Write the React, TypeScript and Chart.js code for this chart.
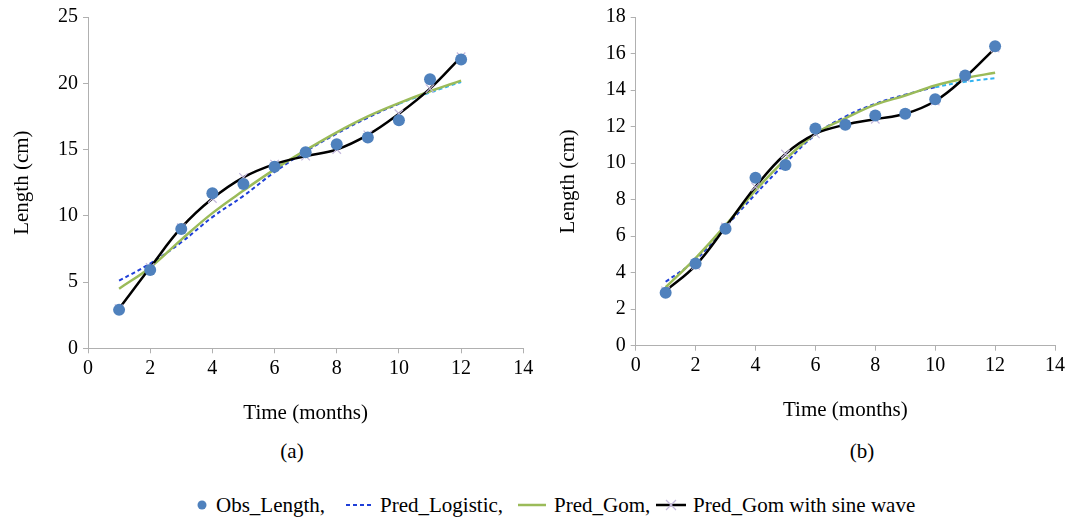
import React, { useEffect, useRef } from "react";
import { Chart, registerables } from "chart.js";
Chart.register(...registerables);

const FONT = "'Liberation Serif', 'Times New Roman', serif";
Chart.defaults.font.family = FONT;

const months = [1, 2, 3, 4, 5, 6, 7, 8, 9, 10, 11, 12];
const xTicksMax = 14;

// Panel (a)
const obsA = [2.9, 5.9, 9.0, 11.7, 12.4, 13.7, 14.8, 15.4, 15.9, 17.2, 20.3, 21.8];
const logisticA = [5.1, 6.4, 8.0, 9.9, 11.5, 13.3, 14.85, 16.2, 17.4, 18.45, 19.3, 20.1];
const gomA = [4.5, 6.1, 8.2, 10.2, 11.9, 13.5, 14.95, 16.3, 17.5, 18.5, 19.4, 20.2];
const sineA = [3.0, 6.1, 9.1, 11.3, 12.9, 13.9, 14.5, 15.0, 16.1, 17.7, 19.6, 22.0];
const yMaxA = 25;
const yStepA = 5;

// Panel (b)
const obsB = [2.9, 4.5, 6.4, 9.2, 9.9, 11.9, 12.1, 12.6, 12.7, 13.5, 14.8, 16.4];
const logisticB = [3.5, 4.7, 6.5, 8.3, 10.0, 11.55, 12.55, 13.25, 13.75, 14.15, 14.45, 14.65];
const gomB = [3.2, 4.8, 6.6, 8.5, 10.2, 11.6, 12.45, 13.2, 13.7, 14.25, 14.65, 14.95];
const sineB = [3.0, 4.4, 6.5, 8.7, 10.5, 11.6, 12.1, 12.4, 12.7, 13.4, 14.7, 16.3];
const yMaxB = 18;
const yStepB = 2;

const xTitle = "Time (months)";
const yTitle = "Length (cm)";
const seriesNames = ["Obs_Length,", "Pred_Logistic,", "Pred_Gom,", "Pred_Gom with sine wave"];

const toXY = (vals: number[]) => months.map((m, i) => ({ x: m, y: vals[i] }));

type PanelProps = {
  obs: number[];
  logistic: number[];
  gom: number[];
  sine: number[];
  yMax: number;
  yStep: number;
  width: number;
  height: number;
  yAxisWidth: number;
  xAxisHeight: number;
  padRight: number;
  padTop: number;
  yTitlePad: number;
  xTitlePad: number;
};

function Panel(p: PanelProps) {
  const ref = useRef<HTMLCanvasElement>(null);
  useEffect(() => {
    const axisColor = "#b0b0b0";
    const chart = new Chart(ref.current as HTMLCanvasElement, {
      type: "line",
      data: {
        datasets: [
          {
            label: seriesNames[0],
            data: toXY(p.obs),
            showLine: false,
            pointRadius: 6,
            pointBackgroundColor: "#4f81bd",
            pointBorderColor: "#4f81bd",
            pointBorderWidth: 0,
          },
          {
            label: seriesNames[3],
            data: toXY(p.sine),
            borderColor: "#000000",
            borderWidth: 2.5,
            tension: 0.4,
            pointStyle: "crossRot",
            pointRadius: 6,
            pointBorderColor: "#c4b8dc",
            pointBorderWidth: 1.2,
          },
          {
            label: seriesNames[2],
            data: toXY(p.gom),
            borderColor: "#9bbb59",
            borderWidth: 2.5,
            tension: 0.4,
            pointRadius: 0,
          },
          {
            label: seriesNames[1],
            data: toXY(p.logistic),
            borderColor: "#1f3fd8",
            borderWidth: 2,
            borderDash: [4, 3],
            tension: 0.4,
            pointRadius: 0,
            segment: {
              borderColor: (ctx: any) => (ctx.p0.parsed.x >= 10 ? "#33b3f0" : undefined),
            },
          },
        ],
      },
      options: {
        animation: false,
        responsive: false,
        devicePixelRatio: 1,
        layout: { padding: { left: 0, right: p.padRight, top: p.padTop, bottom: 0 } },
        plugins: { legend: { display: false }, tooltip: { enabled: false } },
        scales: {
          x: {
            type: "linear",
            min: 0,
            max: xTicksMax,
            ticks: { stepSize: 2, color: "#000", padding: 3, font: { family: FONT, size: 20 } },
            grid: { display: true, drawOnChartArea: false, drawTicks: true, tickLength: 5, color: axisColor },
            border: { display: true, color: axisColor, width: 1 },
            title: {
              display: true,
              text: xTitle,
              color: "#000",
              font: { family: FONT, size: 21 },
              padding: { top: 0, bottom: p.xTitlePad },
            },
            afterFit: (s: any) => {
              s.height = p.xAxisHeight;
            },
          },
          y: {
            type: "linear",
            min: 0,
            max: p.yMax,
            ticks: { stepSize: p.yStep, color: "#000", padding: 5, font: { family: FONT, size: 20 } },
            grid: { display: true, drawOnChartArea: false, drawTicks: true, tickLength: 5, color: axisColor },
            border: { display: true, color: axisColor, width: 1 },
            title: {
              display: true,
              text: yTitle,
              color: "#000",
              font: { family: FONT, size: 21 },
              padding: { top: p.yTitlePad, bottom: 0 },
            },
            afterFit: (s: any) => {
              s.width = p.yAxisWidth;
            },
          },
        },
      },
    } as any);
    return () => chart.destroy();
  }, []);
  return (
    <canvas
      ref={ref}
      width={p.width}
      height={p.height}
      style={{ width: p.width, height: p.height, display: "block" }}
    />
  );
}

const textStyle: React.CSSProperties = {
  position: "absolute",
  fontFamily: FONT,
  fontSize: 21,
  lineHeight: "21px",
  color: "#000",
  whiteSpace: "nowrap",
};

export default function App() {
  return (
    <div
      style={{
        position: "absolute",
        left: 0,
        top: 0,
        width: 1069,
        height: 517,
        background: "#fff",
        overflow: "hidden",
      }}
    >
      <div style={{ position: "absolute", left: 0, top: 0 }}>
        <Panel
          obs={obsA}
          logistic={logisticA}
          gom={gomA}
          sine={sineA}
          yMax={yMaxA}
          yStep={yStepA}
          width={540}
          height={430}
          yAxisWidth={88}
          xAxisHeight={81.7}
          padRight={16.7}
          padTop={14.7}
          yTitlePad={9.4}
          xTitlePad={4.4}
        />
      </div>
      <div style={{ position: "absolute", left: 540, top: 0 }}>
        <Panel
          obs={obsB}
          logistic={logisticB}
          gom={gomB}
          sine={sineB}
          yMax={yMaxB}
          yStep={yStepB}
          width={529}
          height={430}
          yAxisWidth={95.7}
          xAxisHeight={84.3}
          padRight={14}
          padTop={14.7}
          yTitlePad={15.4}
          xTitlePad={7.4}
        />
      </div>
      <div style={{ ...textStyle, left: 242, width: 100, top: 441, textAlign: "center" }}>(a)</div>
      <div style={{ ...textStyle, left: 812, width: 100, top: 441, textAlign: "center" }}>(b)</div>

      {/* legend */}
      <svg style={{ position: "absolute", left: 0, top: 495 }} width={1069} height={20}>
        <circle cx={202} cy={10} r={4.5} fill="#4f81bd" />
        <line x1={346} y1={10} x2={373} y2={10} stroke="#1f3fd8" strokeWidth={2} strokeDasharray="4 3" />
        <line x1={518} y1={10} x2={546} y2={10} stroke="#9bbb59" strokeWidth={2.5} />
        <line x1={656} y1={10} x2={686} y2={10} stroke="#000" strokeWidth={2.5} />
        <line x1={666} y1={5} x2={676} y2={15} stroke="#c4b8dc" strokeWidth={1.2} />
        <line x1={676} y1={5} x2={666} y2={15} stroke="#c4b8dc" strokeWidth={1.2} />
      </svg>
      <div style={{ ...textStyle, left: 216, top: 495 }}>{seriesNames[0]}</div>
      <div style={{ ...textStyle, left: 380, top: 495 }}>{seriesNames[1]}</div>
      <div style={{ ...textStyle, left: 554, top: 495 }}>{seriesNames[2]}</div>
      <div style={{ ...textStyle, left: 693, top: 495 }}>{seriesNames[3]}</div>
    </div>
  );
}
